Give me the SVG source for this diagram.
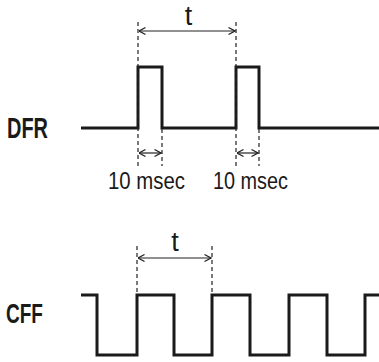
<svg xmlns="http://www.w3.org/2000/svg" width="379" height="362" viewBox="0 0 379 362">
<defs>
<style>
.sig{fill:none;stroke:#1a1a1a;stroke-width:3;stroke-linejoin:miter;stroke-linecap:butt}
.dash{fill:none;stroke:#222;stroke-width:1.2;stroke-dasharray:4 3}
.dim{fill:none;stroke:#222;stroke-width:1.2}
.lbl{font-family:"Liberation Sans",Arial,sans-serif;font-weight:bold;fill:#1a1a1a}
.txt{font-family:"Liberation Sans",Arial,sans-serif;fill:#1a1a1a}
</style>
<marker id="ah" markerUnits="userSpaceOnUse" markerWidth="10" markerHeight="10" refX="9.5" refY="5" orient="auto-start-reverse" viewBox="0 0 10 10">
<path d="M3,1.5 L9.5,5 L3,8.5" fill="none" stroke="#222" stroke-width="1.3"/>
</marker>
</defs>
<rect width="379" height="362" fill="#fff"/>
<g id="dfr">
<text class="lbl" x="7" y="138" font-size="29.5" textLength="41" lengthAdjust="spacingAndGlyphs">DFR</text>
<path class="sig" d="M81,128 H138 V67 H162 V128 H236 V67 H259 V128 H379"/>
</g>
<g id="cff">
<text class="lbl" x="6" y="323" font-size="28" textLength="37" lengthAdjust="spacingAndGlyphs">CFF</text>
<path class="sig" d="M81,295 H97 V355 H137 V295 H174 V355 H212 V295 H250 V355 H289 V295 H327 V355 H365 V295 H379"/>
</g>
<g id="connectors">
<line class="dash" x1="138" y1="22" x2="138" y2="166"/>
<line class="dash" x1="236" y1="22" x2="236" y2="166"/>
<line class="dash" x1="162" y1="129" x2="162" y2="166"/>
<line class="dash" x1="259" y1="129" x2="259" y2="166"/>
<line class="dim" x1="139" y1="31" x2="235" y2="31" marker-start="url(#ah)" marker-end="url(#ah)"/>
<line class="dim" x1="139" y1="153" x2="161" y2="153" marker-start="url(#ah)" marker-end="url(#ah)"/>
<line class="dim" x1="237" y1="153" x2="258" y2="153" marker-start="url(#ah)" marker-end="url(#ah)"/>
<line class="dash" x1="137" y1="246" x2="137" y2="295"/>
<line class="dash" x1="212" y1="246" x2="212" y2="295"/>
<line class="dim" x1="138" y1="258" x2="211" y2="258" marker-start="url(#ah)" marker-end="url(#ah)"/>
</g>
<g id="labels">
<text class="txt" x="188.5" y="25" font-size="27" text-anchor="middle">t</text>
<text class="txt" x="175" y="251" font-size="27" text-anchor="middle">t</text>
<text class="txt" x="108" y="189" font-size="24" textLength="77" lengthAdjust="spacingAndGlyphs">10 msec</text>
<text class="txt" x="213" y="189" font-size="24" textLength="75" lengthAdjust="spacingAndGlyphs">10 msec</text>
</g>
</svg>
